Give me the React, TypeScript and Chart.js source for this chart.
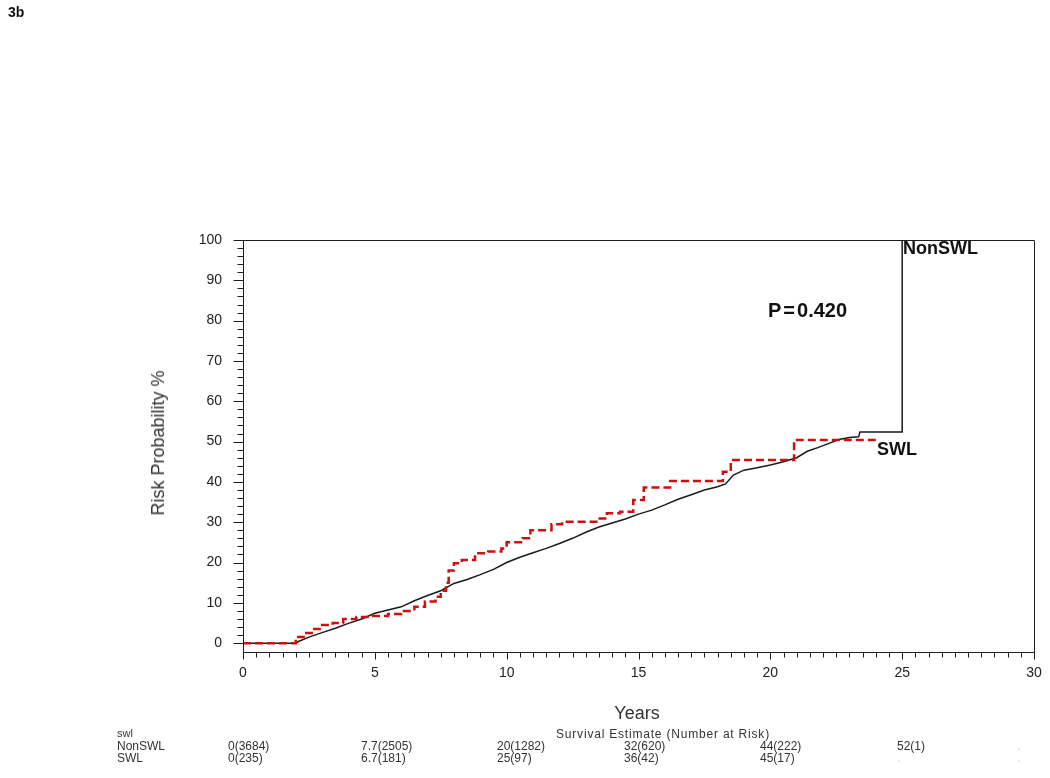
import React, { useEffect, useRef } from "react";
import { Chart, registerables } from "chart.js";

Chart.register(...registerables);

// ---- Data ----
// NonSWL cumulative risk (%) — many tiny steps, traced as a polyline
const nonSwlYears = [0, 2.0, 2.1, 2.5, 3.0, 3.5, 4.0, 4.5, 5.0, 5.5, 6.0, 6.5, 7.0, 7.5, 8.0, 8.5, 9.0, 9.5, 10.0, 10.5, 11.0, 11.5, 12.0, 12.5, 13.0, 13.5, 14.0, 14.5, 15.0, 15.5, 16.0, 16.5, 17.0, 17.5, 18.0, 18.3, 18.6, 19.0, 19.5, 20.0, 20.5, 21.0, 21.4, 21.8, 22.2, 22.6, 23.0, 23.35, 23.4, 25.0, 25.0];
const nonSwlRisk = [0, 0, 0.4, 1.5, 2.6, 3.7, 4.9, 6.0, 7.4, 8.2, 9.0, 10.5, 11.8, 13.0, 14.8, 15.8, 17.0, 18.3, 20.0, 21.3, 22.4, 23.5, 24.7, 26.0, 27.5, 28.8, 29.8, 30.8, 32.0, 33.0, 34.3, 35.7, 36.8, 38.0, 38.8, 39.5, 41.7, 42.9, 43.5, 44.2, 45.0, 46.0, 47.6, 48.5, 49.5, 50.5, 51.0, 51.2, 52.4, 52.4, 100];

// SWL cumulative risk (%) — step function (value changes at the given year)
const swlYears = [0, 2.0, 2.3, 2.7, 3.0, 3.4, 3.8, 4.3, 4.8, 5.5, 6.0, 6.5, 6.9, 7.3, 7.5, 7.7, 7.8, 8.0, 8.3, 8.8, 9.3, 9.8, 10.0, 10.6, 10.9, 11.7, 12.1, 13.4, 13.8, 14.3, 14.8, 15.2, 16.2, 18.2, 18.5, 20.9, 24.0];
const swlRisk = [0, 1.5, 2.5, 3.5, 4.5, 5.0, 6.0, 6.5, 6.7, 7.2, 8.0, 9.0, 10.3, 11.5, 13.0, 15.0, 18.0, 19.8, 20.6, 22.3, 22.7, 23.5, 25.0, 26.0, 28.0, 29.5, 30.1, 30.9, 32.2, 32.6, 35.5, 38.6, 40.2, 42.5, 45.4, 50.4, 50.4];

// Risk table (survival estimate (number at risk))
const tableHeader = "Survival Estimate (Number at Risk)";
const tableGroupLabel = "swl";
const tableRowLabels = ["NonSWL", "SWL"];
const nonSwlTable = ["0(3684)", "7.7(2505)", "20(1282)", "32(620)", "44(222)", "52(1)", "."];
const swlTable = ["0(235)", "6.7(181)", "25(97)", "36(42)", "45(17)", ".", "."];
const pValueText = "0.420";

// ---- Layout constants ----
const W = 1050;
const H = 778;
const FONT = "'Liberation Sans', Arial, Helvetica, sans-serif";
const tableColX = [228, 361, 497, 624, 760, 897, 1017];

const framePlugin = {
  id: "frameTicks",
  afterDraw(chart: any) {
    const { ctx, chartArea: a, scales } = chart;
    const xs = scales.x;
    const ys = scales.y;
    ctx.save();
    ctx.strokeStyle = "#1c1c1c";
    ctx.lineWidth = 1;
    const l = Math.round(a.left) + 0.5;
    const t = Math.round(a.top) + 0.5;
    const r = Math.round(a.right) + 0.5;
    const b = Math.round(a.bottom) + 0.5;
    ctx.beginPath();
    ctx.moveTo(l, t);
    ctx.lineTo(r, t);
    ctx.lineTo(r, b);
    ctx.lineTo(l, b);
    ctx.closePath();
    for (let v = 0; v <= 100; v += 2) {
      const py = Math.round(ys.getPixelForValue(v)) + 0.5;
      const len = v % 10 === 0 ? 10 : 6;
      ctx.moveTo(l - len, py);
      ctx.lineTo(l, py);
    }
    for (let i = 0; i <= 60; i++) {
      const v = i * 0.5;
      const px = Math.round(xs.getPixelForValue(v)) + 0.5;
      const len = i % 10 === 0 ? 7 : 5;
      ctx.moveTo(px, b);
      ctx.lineTo(px, b + len);
    }
    ctx.stroke();
    ctx.restore();
  },
};

function ChartCanvas() {
  const ref = useRef<HTMLCanvasElement | null>(null);
  useEffect(() => {
    if (!ref.current) return;
    const chart = new Chart(ref.current, {
      type: "line",
      data: {
        datasets: [
          {
            label: "SWL",
            data: swlYears.map((x, i) => ({ x, y: swlRisk[i] })),
            borderColor: "#cc1010",
            borderWidth: 2.5,
            borderDash: [8, 4],
            stepped: "before",
            pointRadius: 0,
            fill: false,
          },
          {
            label: "NonSWL",
            data: nonSwlYears.map((x, i) => ({ x, y: nonSwlRisk[i] })),
            borderColor: "#1a1a1a",
            borderWidth: 1.5,
            tension: 0,
            pointRadius: 0,
            fill: false,
          },
        ],
      },
      options: {
        responsive: false,
        animation: false,
        events: [],
        layout: { padding: { left: 0, top: 240, right: 16, bottom: 0 } },
        plugins: { legend: { display: false }, tooltip: { enabled: false } },
        scales: {
          x: {
            type: "linear",
            min: 0,
            max: 30,
            grid: { display: false, drawTicks: false },
            border: { display: false },
            ticks: {
              stepSize: 5,
              maxRotation: 0,
              autoSkip: false,
              padding: 13,
              color: "#222",
              font: { family: FONT, size: 14 },
            },
            afterFit: (s: any) => {
              s.height = 126;
              s.paddingLeft = 0;
              s.paddingRight = 0;
            },
          },
          y: {
            type: "linear",
            min: -2.2,
            max: 100,
            grid: { display: false, drawTicks: false },
            border: { display: false },
            ticks: {
              stepSize: 10,
              includeBounds: false,
              autoSkip: false,
              padding: 21,
              color: "#222",
              font: { family: FONT, size: 14 },
            },
            afterFit: (s: any) => {
              s.width = 243;
              s.paddingTop = 0;
              s.paddingBottom = 0;
            },
          },
        },
      },
      plugins: [framePlugin],
    } as any);
    return () => chart.destroy();
  }, []);
  return (
    <canvas
      ref={ref}
      width={W}
      height={H}
      style={{ position: "absolute", left: 0, top: 0, width: W, height: H }}
    />
  );
}

const txt = (style: React.CSSProperties): React.CSSProperties => ({
  position: "absolute",
  fontFamily: FONT,
  color: "#1e1e1e",
  whiteSpace: "nowrap",
  lineHeight: 1,
  margin: 0,
  ...style,
});

export default function App() {
  return (
    <div style={{ position: "absolute", left: 0, top: 0, width: W, height: H, background: "#fff", overflow: "hidden" }}>
      <ChartCanvas />
      <div style={txt({ left: 8, top: 5, fontSize: 14, fontWeight: "bold", color: "#111" })}>3b</div>

      {/* y axis title */}
      <div
        style={txt({
          left: 158,
          top: 443,
          fontSize: 18,
          color: "#333",
          transform: "translate(-50%, -50%) rotate(-90deg)",
        })}
      >
        Risk Probability %
      </div>
      {/* x axis title */}
      <div style={txt({ left: 637, top: 713, fontSize: 18, color: "#333", transform: "translate(-50%, -50%)" })}>Years</div>

      {/* annotations */}
      <div style={txt({ left: 768, top: 300, fontSize: 20, fontWeight: "bold", color: "#111" })}>
        <span>P</span>
        <span style={{ margin: "0 2px" }}>=</span>
        <span>{pValueText}</span>
      </div>
      <div style={txt({ left: 903, top: 239, fontSize: 18, fontWeight: "bold", color: "#111" })}>{tableRowLabels[0]}</div>
      <div style={txt({ left: 877, top: 440, fontSize: 18, fontWeight: "bold", color: "#111" })}>{tableRowLabels[1]}</div>

      {/* risk table */}
      <div style={txt({ left: 117, top: 728, fontSize: 11, color: "#333" })}>{tableGroupLabel}</div>
      <div style={txt({ left: 663, top: 728, fontSize: 12, color: "#333", letterSpacing: "0.8px", transform: "translateX(-50%)" })}>{tableHeader}</div>
      <div style={txt({ left: 117, top: 740, fontSize: 12, color: "#333" })}>{tableRowLabels[0]}</div>
      <div style={txt({ left: 117, top: 752, fontSize: 12, color: "#333" })}>{tableRowLabels[1]}</div>
      {nonSwlTable.map((s, i) => (
        <div key={"n" + i} style={txt({ left: tableColX[i], top: 740, fontSize: 12, color: s === "." ? "#ccc" : "#333" })}>
          {s}
        </div>
      ))}
      {swlTable.map((s, i) => (
        <div key={"s" + i} style={txt({ left: tableColX[i], top: 752, fontSize: 12, color: s === "." ? "#ccc" : "#333" })}>
          {s}
        </div>
      ))}
    </div>
  );
}
